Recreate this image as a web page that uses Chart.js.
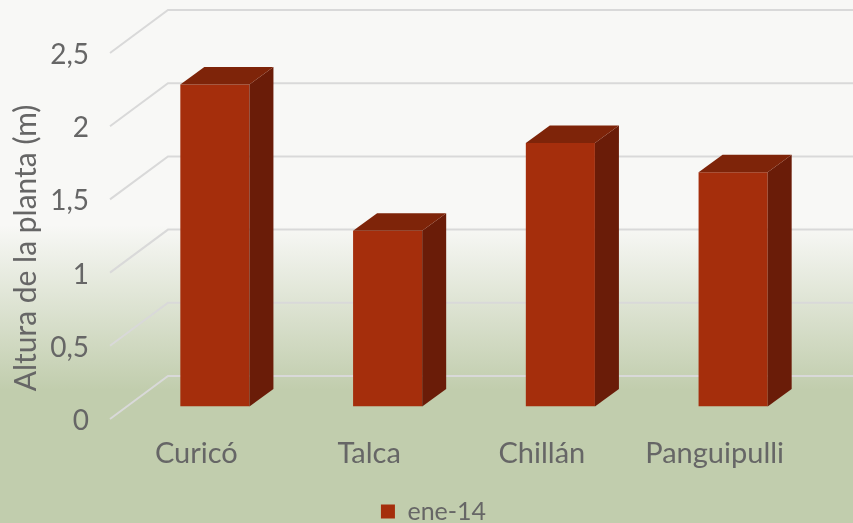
<!DOCTYPE html>
<html>
<head>
<meta charset="utf-8">
<style>
html, body { margin: 0; padding: 0; background: #f8f8f6; overflow: hidden; }
#wrap { width: 853px; height: 523px; }
</style>
</head>
<body>
<div id="wrap"><canvas id="grafico"></canvas></div>
<script src="https://cdn.jsdelivr.net/npm/chart.js@4"></script>
<script>
const categorias = ['Curicó', 'Talca', 'Chillán', 'Panguipulli'];
const alturas = [2.2, 1.2, 1.8, 1.6];
const serie = 'ene-14';

const fuente = 'Lato';
const gris = '#666666';

// profundidad de la caja 3D
const pisoDx = 58, pisoDy = 43;     // pared del fondo
const barraX = 18.5, barraY = 12.5; // cara frontal de la barra
const profX = 24, profY = 17.5;     // fondo de la barra

const escena = {
    id: 'escena',
    afterLayout(chart) {
	// la leyenda va algo a la derecha y abajo del centro
	const ley = chart.legend;
	ley.left += 33;
	ley.right += 33;
	ley.top += 11;
	ley.bottom += 11;

	// titulo y etiquetas del eje y un poco mas abajo
	const ey = chart.scales.y;
	const tit = ey.drawTitle, lab = ey.drawLabels;
	ey.drawTitle = function () {
	    chart.ctx.save();
	    chart.ctx.translate(0, 12);
	    tit.call(ey);
	    chart.ctx.restore();
	};
	ey.drawLabels = function (area) {
	    chart.ctx.save();
	    chart.ctx.translate(0, 2);
	    lab.call(ey, area);
	    chart.ctx.restore();
	};
    },
    beforeDraw(chart) {
	const { ctx, width, height } = chart;
	const g = ctx.createLinearGradient(0, 0, 0, height);
	g.addColorStop(0, '#f8f8f6');
	g.addColorStop(225 / 523, '#f8f8f6');
	g.addColorStop(390 / 523, '#c1cdad');
	g.addColorStop(1, '#c1cdad');
	ctx.save();
	ctx.fillStyle = g;
	ctx.fillRect(0, 0, width, height);
	ctx.restore();
    },
    beforeDatasetsDraw(chart) {
	const { ctx, scales, width } = chart;
	const izq = scales.x.left;
	ctx.save();
	ctx.strokeStyle = '#d9d9d9';
	ctx.lineWidth = 2;
	scales.y.ticks.forEach((t) => {
	    const y = scales.y.getPixelForValue(t.value);
	    ctx.beginPath();
	    ctx.moveTo(izq, y);
	    ctx.lineTo(izq + pisoDx, y - pisoDy);
	    ctx.lineTo(width, y - pisoDy);
	    ctx.stroke();
	});
	ctx.restore();
	// las barras se dibujan desplazadas hacia adentro de la caja
	ctx.save();
	ctx.translate(barraX, -barraY);
    },
    afterDatasetsDraw(chart) {
	const { ctx } = chart;
	chart.getDatasetMeta(0).data.forEach((bar) => {
	    const p = bar.getProps(['x', 'y', 'base', 'width'], true);
	    const l = p.x - p.width / 2, r = p.x + p.width / 2;
	    // lado
	    ctx.fillStyle = '#6a1c08';
	    ctx.beginPath();
	    ctx.moveTo(r, p.y);
	    ctx.lineTo(r + profX, p.y - profY);
	    ctx.lineTo(r + profX, p.base - profY);
	    ctx.lineTo(r, p.base);
	    ctx.closePath();
	    ctx.fill();
	    // tapa
	    ctx.fillStyle = '#7e2409';
	    ctx.beginPath();
	    ctx.moveTo(l, p.y);
	    ctx.lineTo(l + profX, p.y - profY);
	    ctx.lineTo(r + profX, p.y - profY);
	    ctx.lineTo(r, p.y);
	    ctx.closePath();
	    ctx.fill();
	});
	ctx.restore();
    }
};

new Chart(document.getElementById('grafico'), {
    type: 'bar',
    data: {
	labels: categorias,
	datasets: [{
	    label: serie,
	    data: alturas,
	    backgroundColor: '#a52e0c',
	    barPercentage: 0.4,
	    categoryPercentage: 1
	}]
    },
    options: {
	animation: false,
	responsive: true,
	maintainAspectRatio: false,
	layout: { padding: { top: 53, right: 52, bottom: 0, left: 0 } },
	scales: {
	    x: {
		grid: { display: false },
		border: { display: false },
		ticks: {
		    color: gris,
		    font: { family: fuente, size: 29 },
		    padding: 9,
		    maxRotation: 0,
		    autoSkip: false
		},
		afterFit(s) { s.height = 63; }
	    },
	    y: {
		min: 0,
		max: 2.5,
		grid: { display: false },
		border: { display: false },
		title: {
		    display: true,
		    text: 'Altura de la planta (m)',
		    color: gris,
		    font: { family: fuente, size: 30 },
		    padding: { top: 8, bottom: 0 }
		},
		ticks: {
		    stepSize: 0.5,
		    color: gris,
		    font: { family: fuente, size: 28 },
		    padding: 13,
		    callback: (v) => String(v).replace('.', ',')
		},
		afterFit(s) { s.width = 110; }
	    }
	},
	plugins: {
	    legend: {
		position: 'bottom',
		labels: {
		    color: gris,
		    font: { family: fuente, size: 25 },
		    boxWidth: 14,
		    boxHeight: 14,
		    padding: 6
		}
	    },
	    tooltip: { enabled: false }
	}
    },
    plugins: [escena]
});
</script>
</body>
</html>
